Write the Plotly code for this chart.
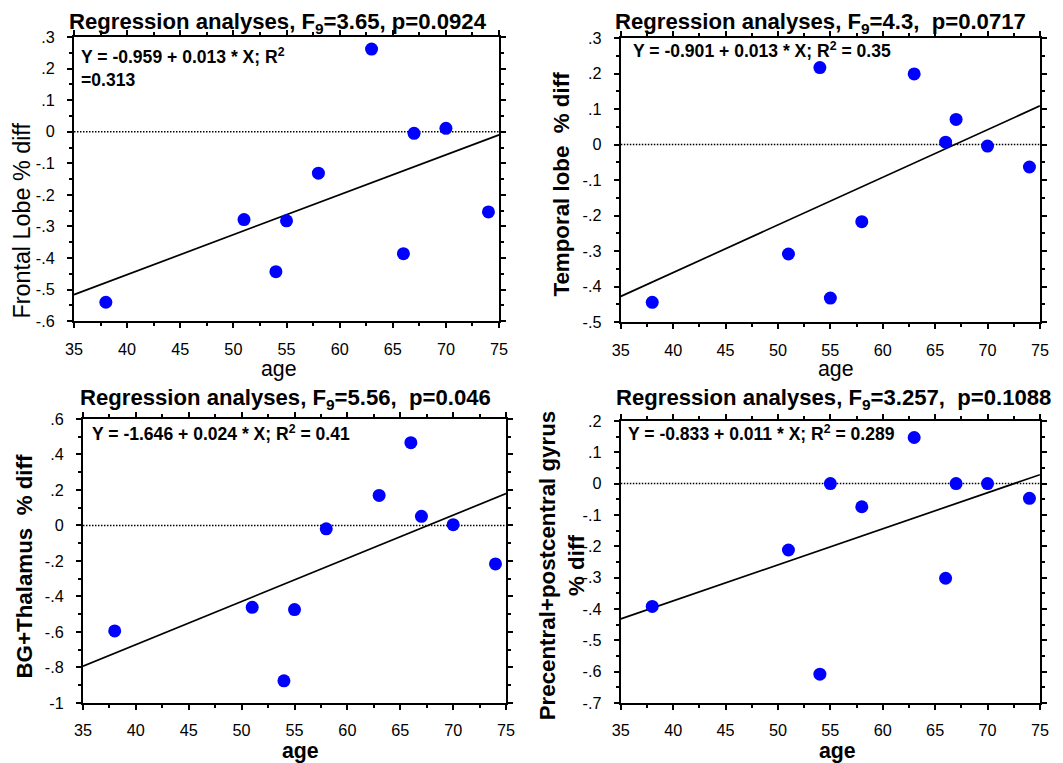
import numpy as np
import plotly.graph_objects as go

# The photographed area is the page (with the body's 8px default margin) scaled
# into 1063x763; positions below are given in picture pixels and mapped back.
W, H = 1063, 763
PAD = 8
SX = (W + 2 * PAD) / W
SY = (H + 2 * PAD) / H
FS = 1.0 / ((W / (W + 2 * PAD)))  # font compensation for the shrink

# ---------------- data ----------------
age = [38, 51, 54, 55, 58, 63, 66, 67, 70, 74]
frontal = [-0.540, -0.278, -0.443, -0.282, -0.131, 0.262, -0.386, -0.005, 0.011, -0.254]
temporal = [-0.444, -0.308, 0.217, -0.432, -0.217, 0.199, 0.007, 0.071, -0.004, -0.063]
bg_thal = [-0.594, -0.461, -0.875, -0.474, -0.019, 0.169, 0.466, 0.051, 0.004, -0.217]
precentral = [-0.392, -0.212, -0.608, 0.000, -0.074, 0.147, -0.302, 0.000, 0.000, -0.047]

x_ticks = [35, 40, 45, 50, 55, 60, 65, 70, 75]
y1_vals = [0.3, 0.2, 0.1, 0, -0.1, -0.2, -0.3, -0.4, -0.5, -0.6]
y1_text = [".3", ".2", ".1", "0", "-.1", "-.2", "-.3", "-.4", "-.5", "-.6"]
y2_vals = [0.3, 0.2, 0.1, 0, -0.1, -0.2, -0.3, -0.4, -0.5]
y2_text = [".3", ".2", ".1", "0", "-.1", "-.2", "-.3", "-.4", "-.5"]
y3_vals = [0.6, 0.4, 0.2, 0, -0.2, -0.4, -0.6, -0.8, -1.0]
y3_text = [".6", ".4", ".2", "0", "-.2", "-.4", "-.6", "-.8", "-1"]
y4_vals = [0.2, 0.1, 0, -0.1, -0.2, -0.3, -0.4, -0.5, -0.6, -0.7]
y4_text = [".2", ".1", "0", "-.1", "-.2", "-.3", "-.4", "-.5", "-.6", "-.7"]

titles = [
    "Regression analyses, F<sub>9</sub>=3.65, p=0.0924",
    "Regression analyses, F<sub>9</sub>=4.3,  p=0.0717",
    "Regression analyses, F<sub>9</sub>=5.56,  p=0.046",
    "Regression analyses, F<sub>9</sub>=3.257,  p=0.1088",
]
equations = [
    "Y = -0.959 + 0.013 * X; R<sup>2</sup><br>=0.313",
    "Y = -0.901 + 0.013 * X; R<sup>2</sup> = 0.35",
    "Y = -1.646 + 0.024 * X; R<sup>2</sup> = 0.41",
    "Y = -0.833 + 0.011 * X; R<sup>2</sup> = 0.289",
]
ytitles = [
    "Frontal Lobe % diff",
    "<b>Temporal lobe  % diff</b>",
    "<b>BG+Thalamus  % diff</b>",
    "<b>Precentral+postcentral gyrus<br>% diff</b>",
]
xtitles = ["age", "age", "<b>age</b>", "<b>age</b>"]

# ---------------- layout geometry (picture pixels) ----------------
boxes = [
    (73, 499, 36, 321),
    (621, 1041, 37, 322),
    (82, 506, 419, 704),
    (621, 1041, 421, 704),
]
yranges = [(-0.6, 0.3), (-0.5, 0.3), (-1.0, 0.6), (-0.7, 0.2)]
yminor = [0.05, 0.05, 0.1, 0.05]
title_pos = [(277, 22), (821, 22), (285, 399), (834, 399)]
eq_pos = [(78, 42), (631, 49), (89, 433), (626, 433)]
ytitle_pos = [(20, 220), (562, 183), (23, 567), (562, 566)]
xtitle_pos = [(278, 369), (837, 369), (300, 752), (838, 752)]


def px(x):
    return (x * SX - PAD) / W


def py(y):
    return 1 - (y * SY - PAD) / H


def fs(s):
    return round(s * FS, 2)


FONT = "Arial, Liberation Sans, sans-serif"
series = [frontal, temporal, bg_thal, precentral]
yticks = [(y1_vals, y1_text), (y2_vals, y2_text), (y3_vals, y3_text), (y4_vals, y4_text)]

fig = go.Figure()
annotations = []

for i in range(4):
    n = "" if i == 0 else str(i + 1)
    xa, ya = "x" + n, "y" + n
    L, R, T, B = boxes[i]
    xs = np.array(age, dtype=float)
    ys = np.array(series[i], dtype=float)
    slope, intercept = np.polyfit(xs, ys, 1)
    xl = np.array([35.0, 75.0])

    fig.add_trace(go.Scatter(x=[35, 75], y=[0, 0], mode="lines",
                             line=dict(color="black", width=1.5, dash="1.5px,1.5px"),
                             xaxis=xa, yaxis=ya, showlegend=False, hoverinfo="skip"))
    fig.add_trace(go.Scatter(x=xl, y=intercept + slope * xl, mode="lines",
                             line=dict(color="black", width=1.7),
                             xaxis=xa, yaxis=ya, showlegend=False))
    fig.add_trace(go.Scatter(x=age, y=series[i], mode="markers",
                             marker=dict(color="#0000FF", size=13),
                             xaxis=xa, yaxis=ya, showlegend=False))

    common = dict(showline=True, linewidth=2, linecolor="black", mirror="ticks",
                  ticks="outside", ticklen=5, tickwidth=1.5, tickcolor="black",
                  showgrid=False, zeroline=False,
                  tickfont=dict(family=FONT, size=fs(16), color="black"))
    fig.layout["xaxis" + n] = dict(
        domain=[px(L), px(R)], anchor=ya, range=[35, 75],
        tickvals=x_ticks, ticklabelstandoff=7,
        minor=dict(ticks="outside", ticklen=3, tickwidth=1.5, tickcolor="black", dtick=2.5, tick0=35),
        **common)
    fig.layout["yaxis" + n] = dict(
        domain=[py(B), py(T)], anchor=xa, range=list(yranges[i]),
        tickvals=yticks[i][0], ticktext=yticks[i][1], ticklabelstandoff=9,
        minor=dict(ticks="outside", ticklen=3, tickwidth=1.5, tickcolor="black",
                   dtick=yminor[i], tick0=0),
        **common)

    annotations.append(dict(text="<b>" + titles[i] + "</b>", x=px(title_pos[i][0]),
                            y=py(title_pos[i][1]), xref="paper", yref="paper",
                            xanchor="center", yanchor="middle", showarrow=False,
                            font=dict(family=FONT, size=fs(21.8), color="black")))
    annotations.append(dict(text="<b>" + equations[i] + "</b>", x=px(eq_pos[i][0]),
                            y=py(eq_pos[i][1]), xref="paper", yref="paper",
                            xanchor="left", yanchor="top" if i == 0 else "middle",
                            align="left", showarrow=False,
                            font=dict(family=FONT, size=fs(17.3), color="black")))
    annotations.append(dict(text=ytitles[i], x=px(ytitle_pos[i][0]),
                            y=py(ytitle_pos[i][1]), xref="paper", yref="paper",
                            xanchor="center", yanchor="middle", textangle=-90,
                            showarrow=False,
                            font=dict(family=FONT, size=fs(22 if i > 0 else 23), color="black")))
    annotations.append(dict(text=xtitles[i], x=px(xtitle_pos[i][0]),
                            y=py(xtitle_pos[i][1]), xref="paper", yref="paper",
                            xanchor="center", yanchor="middle", showarrow=False,
                            font=dict(family=FONT, size=fs(21), color="black")))

fig.update_layout(width=W, height=H, margin=dict(l=0, r=0, t=0, b=0),
                  paper_bgcolor="white", plot_bgcolor="white",
                  annotations=annotations, showlegend=False)

fig.write_html("out.html")
